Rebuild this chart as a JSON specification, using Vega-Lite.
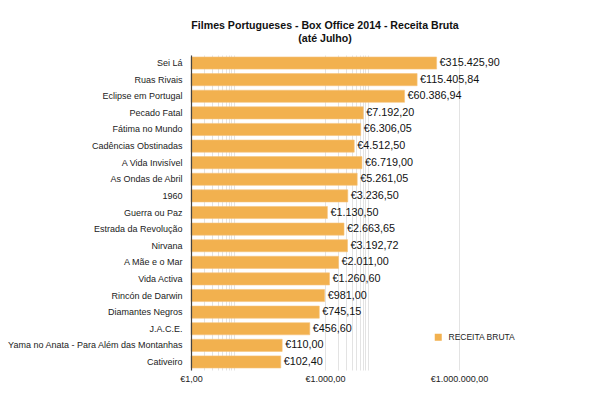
{
  "$schema": "https://vega.github.io/schema/vega-lite/v6.json",
  "autosize": {"type": "none"},
  "width": 268,
  "height": 315,
  "padding": {"left": 191, "top": 55, "right": 141, "bottom": 26},
  "background": "white",
  "title": {
    "text": ["Filmes Portugueses - Box Office 2014 - Receita Bruta", "(até Julho)"],
    "font": "Liberation Sans",
    "fontSize": 10.6,
    "fontWeight": "bold",
    "color": "#111111",
    "anchor": "middle",
    "offset": 10,
    "lineHeight": 13
  },
  "config": {
    "locale": {"number": {"decimal": ",", "thousands": ".", "grouping": [3], "currency": ["€", ""]}},
    "view": {"stroke": null},
    "font": "Liberation Sans"
  },
  "data": {
    "values": [
      {"filme": "Sei Lá", "receita": 315425.90},
      {"filme": "Ruas Rivais", "receita": 115405.84},
      {"filme": "Eclipse em Portugal", "receita": 60386.94},
      {"filme": "Pecado Fatal", "receita": 7192.20},
      {"filme": "Fátima no Mundo", "receita": 6306.05},
      {"filme": "Cadências Obstinadas", "receita": 4512.50},
      {"filme": "A Vida Invisível", "receita": 6719.00},
      {"filme": "As Ondas de Abril", "receita": 5261.05},
      {"filme": "1960", "receita": 3236.50},
      {"filme": "Guerra ou Paz", "receita": 1130.50},
      {"filme": "Estrada da Revolução", "receita": 2663.65},
      {"filme": "Nirvana", "receita": 3192.72},
      {"filme": "A Mãe e o Mar", "receita": 2011.00},
      {"filme": "Vida Activa", "receita": 1260.60},
      {"filme": "Rincón de Darwin", "receita": 981.00},
      {"filme": "Diamantes Negros", "receita": 745.15},
      {"filme": "J.A.C.E.", "receita": 456.60},
      {"filme": "Yama no Anata - Para Além das Montanhas", "receita": 110.00},
      {"filme": "Cativeiro", "receita": 102.40}
    ]
  },
  "encoding": {
    "y": {
      "field": "filme",
      "type": "nominal",
      "sort": null,
      "scale": {"paddingInner": 0.27, "paddingOuter": 0.12},
      "axis": {
        "title": null,
        "ticks": false,
        "domain": true,
        "domainColor": "#444444",
        "domainWidth": 1.2,
        "labelFontSize": 9,
        "labelColor": "#222222",
        "labelPadding": 9,
        "labelLimit": 300,
        "zindex": 2
      }
    },
    "x": {
      "field": "receita",
      "type": "quantitative",
      "scale": {"type": "log", "domain": [1, 1000000], "nice": false},
      "axis": {
        "title": null,
        "values": [1, 2, 3, 4, 5, 6, 7, 8, 9, 1000, 2000, 3000, 4000, 5000, 6000, 7000, 8000, 9000, 1000000],
        "labelExpr": "datum.value == 1 || datum.value == 1000 || datum.value == 1000000 ? format(datum.value, '$,.2f') : ''",
        "labelOverlap": false,
        "labelFlush": false,
        "labelBound": false,
        "ticks": false,
        "domain": false,
        "grid": true,
        "gridColor": "#e3e3e3",
        "gridWidth": 1,
        "labelFontSize": 9,
        "labelColor": "#222222",
        "labelPadding": 4,
        "zindex": 0
      }
    }
  },
  "layer": [
    {
      "mark": {"type": "bar", "stroke": "#F7C37A", "strokeWidth": 0.6},
      "encoding": {
        "x2": {"datum": 1},
        "color": {
          "datum": "RECEITA BRUTA",
          "scale": {"range": ["#F2B14F"]},
          "legend": {
            "title": null,
            "orient": "none",
            "legendX": 243,
            "legendY": 278,
            "symbolType": "square",
            "symbolSize": 49,
            "symbolStrokeWidth": 0,
            "labelFontSize": 8.5,
            "labelColor": "#222222",
            "labelOffset": 6,
            "padding": 0
          }
        }
      }
    },
    {
      "mark": {"type": "text", "align": "left", "baseline": "middle", "dx": 3, "fontSize": 10.8, "color": "#111111"},
      "encoding": {
        "text": {"field": "receita", "type": "quantitative", "format": "$,.2f"}
      }
    }
  ]
}
